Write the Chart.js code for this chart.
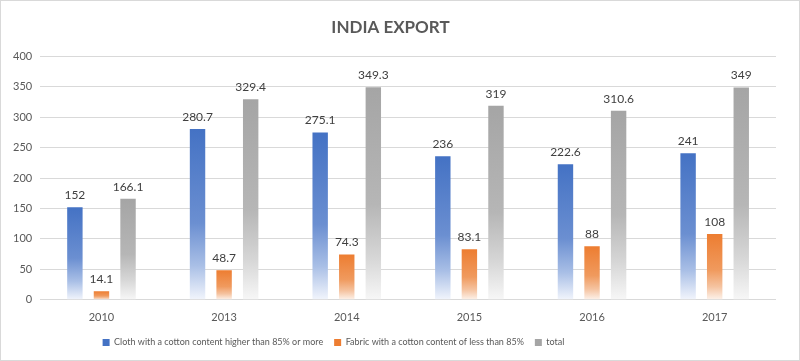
<!DOCTYPE html>
<html>
<head>
<meta charset="utf-8">
<script src="https://cdn.jsdelivr.net/npm/chart.js@4/dist/chart.umd.min.js"></script>
<style>
  html, body { margin: 0; padding: 0; background: #fff; }
  #wrap { width: 798px; height: 359px; border: 1px solid #d9d9d9; }
</style>
</head>
<body>
<div id="wrap"><canvas id="myChart" width="798" height="359"></canvas></div>
<script>
// datos
const years = ['2010', '2013', '2014', '2015', '2016', '2017'];
const cloth = [152, 280.7, 275.1, 236, 222.6, 241];
const fabric = [14.1, 48.7, 74.3, 83.1, 88, 108];
const total = [166.1, 329.4, 349.3, 319, 310.6, 349];

const seriesNames = [
    'Cloth with a cotton content higher than 85% or more',
    'Fabric with a cotton content of less than 85%',
    'total'
];

// colores
const baseColors = ['#4472C4', '#ED7D31', '#A5A5A5'];
const fadeColors = [
    ['#4472C4', '#6b8fd1', '#a9bfe6', '#f2f5fc'],
    ['#ED7D31', '#f09a5e', '#f5c3a0', '#fdf3ec'],
    ['#A5A5A5', '#b6b6b6', '#d6d6d6', '#f7f7f7']
];

const gradientFor = (i) => (c) => {
    const chart = c.chart;
    if (!chart.chartArea || c.raw == null) return baseColors[i];
    const y = chart.scales.y;
    const top = y.getPixelForValue(c.raw);
    const bottom = y.getPixelForValue(0);
    const g = chart.ctx.createLinearGradient(0, top, 0, bottom);
    const st = fadeColors[i];
    g.addColorStop(0, st[0]);
    g.addColorStop(0.55, st[1]);
    g.addColorStop(0.8, st[2]);
    g.addColorStop(1, st[3]);
    return g;
};

// etiquetas
const valueLabels = {
    id: 'valueLabels',
    afterDatasetsDraw(chart) {
        const ctx = chart.ctx;
        ctx.save();
        ctx.font = '12px Lato';
        ctx.fillStyle = '#404040';
        ctx.textAlign = 'center';
        ctx.textBaseline = 'bottom';
        chart.data.datasets.forEach((ds, i) => {
            const meta = chart.getDatasetMeta(i);
            meta.data.forEach((bar, j) => {
                ctx.fillText(String(ds.data[j]), bar.x, bar.y - 6);
            });
        });
        ctx.restore();
    }
};

// leyenda un poco a la izquierda, como en el original
const legendShift = {
    id: 'legendShift',
    afterLayout(chart) {
        chart.legend.left -= 57;
        chart.legend.right -= 57;
    }
};

// grafico
const allData = [cloth, fabric, total];
const ctx = document.getElementById('myChart');
const myChart = new Chart(ctx, {
    type: 'bar',
    data: {
        labels: years,
        datasets: allData.map((d, i) => ({
            label: seriesNames[i],
            data: d,
            backgroundColor: gradientFor(i),
            borderWidth: 0,
            categoryPercentage: 0.65,
            barPercentage: 0.58
        }))
    },
    options: {
        responsive: false,
        animation: false,
        layout: { padding: { left: 4, right: 23, top: 4, bottom: 3 } },
        plugins: {
            title: {
                display: true,
                text: 'INDIA EXPORT',
                color: '#595959',
                font: { family: 'Lato', size: 17, weight: 'bold' },
                padding: { top: 12, bottom: 19 }
            },
            legend: {
                position: 'bottom',
                labels: {
                    color: '#595959',
                    font: { family: 'Lato', size: 9 },
                    boxWidth: 7,
                    boxHeight: 7,
                    padding: 11,
                    generateLabels: (chart) => seriesNames.map((n, i) => ({
                        text: n,
                        fillStyle: baseColors[i],
                        strokeStyle: baseColors[i],
                        lineWidth: 0,
                        fontColor: '#595959',
                        datasetIndex: i
                    }))
                }
            },
            tooltip: { enabled: false }
        },
        scales: {
            x: {
                grid: { display: false },
                border: { display: false },
                ticks: { color: '#595959', font: { family: 'Lato', size: 11 } }
            },
            y: {
                min: 0,
                max: 400,
                ticks: { stepSize: 50, color: '#595959', font: { family: 'Lato', size: 11 }, padding: 8 },
                grid: { color: '#d9d9d9', drawTicks: false },
                border: { display: false }
            }
        }
    },
    plugins: [valueLabels, legendShift]
});
</script>
</body>
</html>
